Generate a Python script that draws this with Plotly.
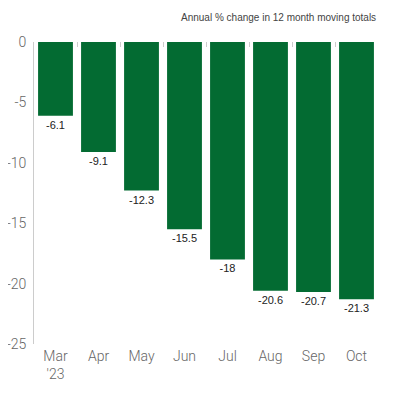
import plotly.graph_objects as go

months = ["Mar<br>'23", "Apr", "May", "Jun", "Jul", "Aug", "Sep", "Oct"]
change = [-6.1, -9.1, -12.3, -15.5, -18, -20.6, -20.7, -21.3]
labels = ["-6.1", "-9.1", "-12.3", "-15.5", "-18", "-20.6", "-20.7", "-21.3"]
ytick_vals = [0, -5, -10, -15, -20, -25]
ytick_text = ["0", "-5", "-10", "-15", "-20", "-25"]

fig = go.Figure(
    go.Bar(
        x=months,
        y=change,
        marker=dict(color="#036b32", line=dict(width=0)),
        text=labels,
        textposition="outside",
        cliponaxis=False,
        textfont=dict(family="Liberation Sans Narrow, Liberation Sans", size=11, color="#222"),
    )
)

# faint tick marks between bars along the zero line
fig.add_trace(go.Scatter(x=months, y=[None] * len(months), xaxis="x2", showlegend=False))

# page has an 8px body margin, so the figure is 392px and offsets shrink by 8
fig.update_layout(
    width=392,
    height=392,
    margin=dict(l=26, r=22, t=34, b=56),
    plot_bgcolor="white",
    paper_bgcolor="white",
    bargap=0.19,
    showlegend=False,
    font=dict(family="Roboto, Liberation Sans", color="#666"),
    xaxis=dict(
        showline=False,
        ticks="",
        automargin=False,
        tickfont=dict(size=14, color="#666", weight=300),
        ticklabelstandoff=2,
    ),
    xaxis2=dict(
        overlaying="x",
        side="top",
        anchor="y",
        matches="x",
        automargin=False,
        showticklabels=False,
        ticks="inside",
        tickson="boundaries",
        ticklen=5,
        tickcolor="#ccc",
        showline=False,
        showgrid=False,
    ),
    yaxis=dict(
        range=[-25, 0],
        tickvals=ytick_vals,
        ticktext=ytick_text,
        showgrid=False,
        zeroline=False,
        showline=True,
        automargin=False,
        linecolor="#ccc",
        linewidth=1,
        ticks="",
        tickfont=dict(size=14, color="#666", weight=300),
        ticklabelstandoff=4,
    ),
    annotations=[
        dict(
            text="Annual % change in 12 month moving totals",
            xref="paper",
            yref="paper",
            x=1,
            y=1.08,
            xanchor="right",
            yanchor="middle",
            showarrow=False,
            font=dict(family="Liberation Sans Narrow, Liberation Sans", size=10, color="#444"),
        )
    ],
)

fig.write_html("out.html")
